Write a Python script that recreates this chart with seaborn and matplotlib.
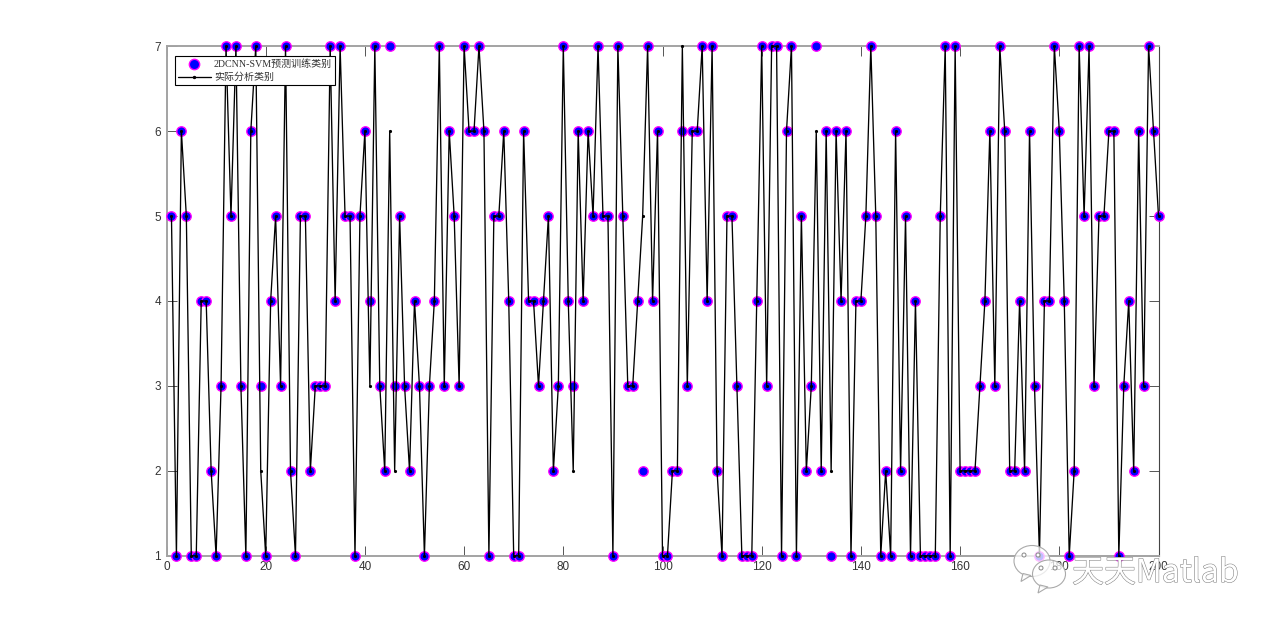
import numpy as np
import seaborn as sns
import matplotlib.pyplot as plt
import matplotlib.patheffects as pe
from matplotlib.patches import Ellipse, Polygon

predicted = [5, 1, 6, 5, 1, 1, 4, 4, 2, 1,
             3, 7, 5, 7, 3, 1, 6, 7, 3, 1,
             4, 5, 3, 7, 2, 1, 5, 5, 2, 3,
             3, 3, 7, 4, 7, 5, 5, 1, 5, 6,
             4, 7, 3, 2, 7, 3, 5, 3, 2, 4,
             3, 1, 3, 4, 7, 3, 6, 5, 3, 7,
             6, 6, 7, 6, 1, 5, 5, 6, 4, 1,
             1, 6, 4, 4, 3, 4, 5, 2, 3, 7,
             4, 3, 6, 4, 6, 5, 7, 5, 5, 1,
             7, 5, 3, 3, 4, 2, 7, 4, 6, 1,
             1, 2, 2, 6, 3, 6, 6, 7, 4, 7,
             2, 1, 5, 5, 3, 1, 1, 1, 4, 7,
             3, 7, 7, 1, 6, 7, 1, 5, 2, 3,
             7, 2, 6, 1, 6, 4, 6, 1, 4, 4,
             5, 7, 5, 1, 2, 1, 6, 2, 5, 1,
             4, 1, 1, 1, 1, 5, 7, 1, 7, 2,
             2, 2, 2, 3, 4, 6, 3, 7, 6, 2,
             2, 4, 2, 6, 3, 1, 4, 4, 7, 6,
             4, 1, 2, 7, 5, 7, 3, 5, 5, 6,
             6, 1, 3, 4, 2, 6, 3, 7, 6, 5]

actual = [5, 1, 6, 5, 1, 1, 4, 4, 2, 1,
          3, 7, 5, 7, 3, 1, 6, 7, 2, 1,
          4, 5, 3, 7, 2, 1, 5, 5, 2, 3,
          3, 3, 7, 4, 7, 5, 5, 1, 5, 6,
          3, 7, 3, 2, 6, 2, 5, 3, 2, 4,
          3, 1, 3, 4, 7, 3, 6, 5, 3, 7,
          6, 6, 7, 6, 1, 5, 5, 6, 4, 1,
          1, 6, 4, 4, 3, 4, 5, 2, 3, 7,
          4, 2, 6, 4, 6, 5, 7, 5, 5, 1,
          7, 5, 3, 3, 4, 5, 7, 4, 6, 1,
          1, 2, 2, 7, 3, 6, 6, 7, 4, 7,
          2, 1, 5, 5, 3, 1, 1, 1, 4, 7,
          3, 7, 7, 1, 6, 7, 1, 5, 2, 3,
          6, 2, 6, 2, 6, 4, 6, 1, 4, 4,
          5, 7, 5, 1, 2, 1, 6, 2, 5, 1,
          4, 1, 1, 1, 1, 5, 7, 1, 7, 2,
          2, 2, 2, 3, 4, 6, 3, 7, 6, 2,
          2, 4, 2, 6, 3, 1, 4, 4, 7, 6,
          4, 1, 2, 7, 5, 7, 3, 5, 5, 6,
          6, 1, 3, 4, 2, 6, 3, 7, 6, 5]

samples = np.arange(1, len(predicted) + 1)
x_ticks = [0, 20, 40, 60, 80, 100, 120, 140, 160, 180, 200]
y_ticks = [1, 2, 3, 4, 5, 6, 7]
pred_label = '2DCNN-SVM预测训练类别'
actual_label = '实际分析类别'

sns.set_theme(style="white", rc={"font.family": ["Liberation Sans"]})

fig = plt.figure(figsize=(12.8, 6.25), dpi=100)
ax = fig.add_axes([166.5 / 1280, 1 - 555.8 / 625, 992 / 1280, 509.6 / 625])

sns.scatterplot(x=samples, y=predicted, ax=ax, s=46, color='blue', edgecolor='magenta',
                linewidth=1.0, clip_on=False, zorder=3, label=pred_label)
sns.lineplot(x=samples, y=actual, ax=ax, color='black', linewidth=0.95, marker='.',
             markersize=3, markeredgecolor='black', clip_on=False, zorder=4,
             estimator=None, label=actual_label)

ax.set_xlim(0, 200)
ax.set_ylim(1, 7)
ax.set_xticks(x_ticks)
ax.set_yticks(y_ticks)
ax.tick_params(direction='in', length=7, width=0.7, color='#555555', labelsize=8.5,
               labelcolor='#333333', top=True, right=True, bottom=True, left=True, pad=4)
for name, side in ax.spines.items():
    if name == 'right':
        side.set_color('#444444')
        side.set_linewidth(0.8)
    else:
        side.set_color('#a3a3a3')
        side.set_linewidth(1.4)

leg = ax.legend(loc='upper left', bbox_to_anchor=(0.0085, 0.981), borderaxespad=0,
                frameon=True, fancybox=False, framealpha=1, edgecolor='black',
                handlelength=3.3, handletextpad=0.3, labelspacing=0.4, borderpad=0.3,
                markerscale=1.1,
                prop={'family': ['Liberation Serif', 'Noto Sans CJK SC'], 'size': 7.2})
leg.get_frame().set_linewidth(0.8)
for t in leg.get_texts():
    t.set_color('#333333')

# watermark
over = fig.add_axes([0, 0, 1, 1], zorder=10)
over.set_xlim(0, 1280)
over.set_ylim(625, 0)
over.axis('off')
for cx, cy, w, h in [(1032, 561, 36, 31), (1049, 574, 33, 28)]:
    over.add_patch(Ellipse((cx, cy), w, h, fc=(1, 1, 1, 0.75), ec='#aaaaaa', lw=0.8))
    over.add_patch(Polygon([[cx - 9, cy + h / 2 - 3], [cx - 11, cy + h / 2 + 5], [cx - 1, cy + h / 2 - 1]],
                           fc=(1, 1, 1, 0.75), ec='#aaaaaa', lw=0.8))
    over.add_patch(Ellipse((cx - 8, cy - 6), 4, 4, fc='white', ec='#888888', lw=0.7))
    over.add_patch(Ellipse((cx + 6, cy - 6), 4, 4, fc='white', ec='#888888', lw=0.7))
over.text(1072, 582, '天天Matlab', fontsize=23, color='white', ha='left', va='baseline',
          family=['Noto Sans CJK SC', 'DejaVu Sans'],
          path_effects=[pe.withStroke(linewidth=0.8, foreground='#888888')])

plt.savefig('out.png', dpi=100)
